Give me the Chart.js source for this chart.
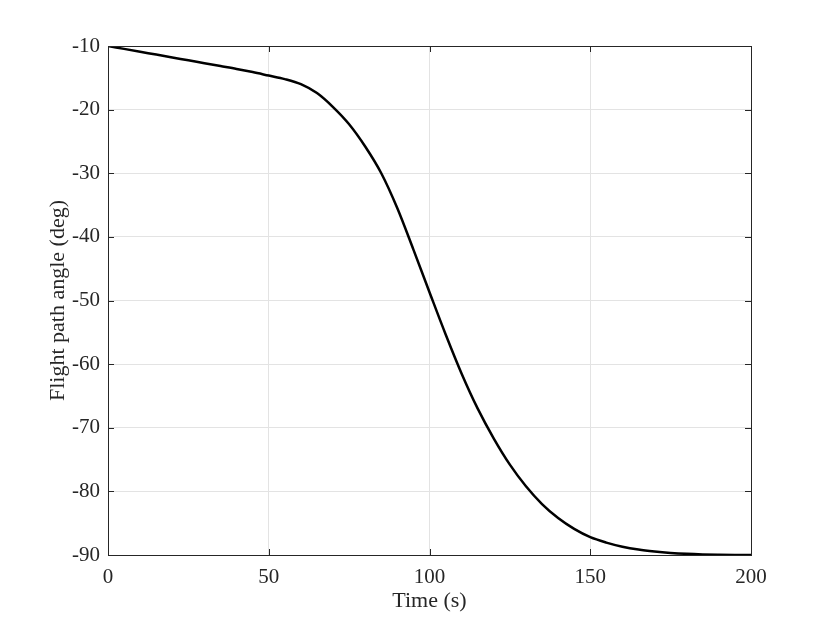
<!DOCTYPE html>
<html>
<head>
<meta charset="utf-8">
<script src="https://cdn.jsdelivr.net/npm/chart.js@4.4.0/dist/chart.umd.min.js"></script>
<style>
  body { margin: 0; background: #fff; }
  canvas { display: block; }
</style>
</head>
<body>
<canvas id="myChart" width="830" height="623"></canvas>
<script>
const timeValues = [0, 5, 10, 15, 20, 25, 30, 35, 40, 45, 50, 55, 60, 65, 70, 75, 80, 85, 90, 95,
    100, 105, 110, 115, 120, 125, 130, 135, 140, 145, 150, 155, 160, 165, 170, 175, 180, 185, 190, 195, 200];
const angleValues = [-10, -10.45, -10.9, -11.35, -11.8, -12.25, -12.7, -13.15, -13.6, -14.1, -14.65, -15.2, -16.0, -17.4, -19.6, -22.3, -25.8, -30.0, -35.5, -42.0,
    -48.7, -55.3, -61.5, -67.0, -71.7, -75.8, -79.2, -82.0, -84.2, -85.9, -87.2, -88.05, -88.7, -89.15, -89.45, -89.67, -89.82, -89.91, -89.96, -89.99, -90];
const xTicks = [0, 50, 100, 150, 200];
const yTicks = [-10, -20, -30, -40, -50, -60, -70, -80, -90];
const xTitle = 'Time (s)';
const yTitle = 'Flight path angle (deg)';

const font = { family: 'Liberation Serif', size: 21 };
const titleFont = '22px Liberation Serif';
const axisColor = '#262626';

// box, inward ticks and axis titles, like a matlab figure
const boxPlugin = {
    id: 'box',
    afterDraw: (chart) => {
        const ctx = chart.ctx;
        const a = chart.chartArea;
        const xs = chart.scales.x;
        const ys = chart.scales.y;
        const len = 6;
        ctx.save();
        ctx.strokeStyle = axisColor;
        ctx.lineWidth = 1;
        ctx.beginPath();
        xTicks.forEach((t) => {
            const px = Math.round(xs.getPixelForValue(t)) + 0.5;
            ctx.moveTo(px, a.bottom); ctx.lineTo(px, a.bottom - len);
            ctx.moveTo(px, a.top); ctx.lineTo(px, a.top + len);
        });
        yTicks.forEach((t) => {
            const py = Math.round(ys.getPixelForValue(t)) + 0.5;
            ctx.moveTo(a.left, py); ctx.lineTo(a.left + len, py);
            ctx.moveTo(a.right, py); ctx.lineTo(a.right - len, py);
        });
        ctx.stroke();
        ctx.strokeRect(Math.round(a.left) + 0.5, Math.round(a.top) + 0.5,
            Math.round(a.right - a.left), Math.round(a.bottom - a.top));

        ctx.fillStyle = axisColor;
        ctx.font = titleFont;
        ctx.textAlign = 'center';
        ctx.textBaseline = 'alphabetic';
        ctx.fillText(xTitle, (a.left + a.right) / 2, 607);
        ctx.translate(63.5, (a.top + a.bottom) / 2);
        ctx.rotate(-Math.PI / 2);
        ctx.fillText(yTitle, 0, 0);
        ctx.restore();
    }
};

const ctx = document.getElementById('myChart').getContext('2d');

const data = {
    datasets: [{
        label: 'Flight path angle',
        data: timeValues.map((t, i) => ({ x: t, y: angleValues[i] })),
        borderColor: '#000000',
        backgroundColor: '#000000',
        borderWidth: 2.5,
        pointRadius: 0,
        fill: false,
        cubicInterpolationMode: 'monotone',
    }]
};

const chart = new Chart(ctx, {
    type: 'line',
    data: data,
    plugins: [boxPlugin],
    options: {
        responsive: false,
        animation: false,
        layout: { padding: { top: 46, right: 79, left: 0, bottom: 0 } },
        plugins: {
            legend: { display: false },
            tooltip: { enabled: false }
        },
        scales: {
            x: {
                type: 'linear',
                min: 0,
                max: 200,
                afterFit: (s) => { s.height = 68; },
                afterBuildTicks: (s) => { s.ticks = xTicks.map((v) => ({ value: v })); },
                grid: { color: '#e3e3e3', drawTicks: false },
                border: { display: false },
                ticks: { font: font, color: axisColor, padding: 10, maxRotation: 0 }
            },
            y: {
                type: 'linear',
                min: -90,
                max: -10,
                afterFit: (s) => { s.width = 108; },
                afterBuildTicks: (s) => { s.ticks = yTicks.map((v) => ({ value: v })); },
                grid: { color: '#e3e3e3', drawTicks: false },
                border: { display: false },
                ticks: { font: font, color: axisColor, padding: 8 }
            }
        }
    }
});
</script>
</body>
</html>
